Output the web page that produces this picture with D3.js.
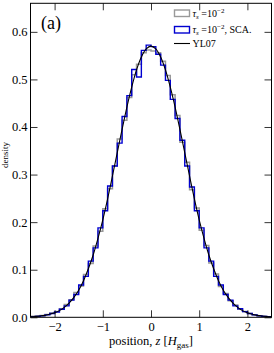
<!DOCTYPE html>
<html>
<head>
<meta charset="utf-8">
<script src="https://cdn.jsdelivr.net/npm/d3@7"></script>
<style>
  body { margin: 0; background: #fff; }
  svg, svg text { font-family: "Liberation Serif", "Times New Roman", Times, serif; }
</style>
</head>
<body>
<div class="graph"></div>
<script>
(function () {
  'use strict';

  // histogram bins: 50 bins of width 0.1 from -2.5 to 2.5
  var binStart = -2.5;
  var binWidth = 0.1;

  // tau_s = 1e-2 (grey)
  var densGrey = [
    0.002, 0.003, 0.004, 0.006, 0.009, 0.012, 0.018, 0.027, 0.037, 0.052,
    0.066, 0.090, 0.113, 0.150, 0.181, 0.228, 0.270, 0.318, 0.375, 0.414,
    0.462, 0.510, 0.532, 0.556, 0.562, 0.560, 0.556, 0.538, 0.508, 0.468,
    0.424, 0.368, 0.326, 0.268, 0.230, 0.183, 0.151, 0.114, 0.091, 0.065,
    0.050, 0.035, 0.026, 0.017, 0.012, 0.008, 0.005, 0.003, 0.002, 0.001
  ];

  // tau_s = 1e-2, SCA (blue)
  var densSCA = [
    0.001, 0.002, 0.003, 0.005, 0.008, 0.011, 0.017, 0.024, 0.036, 0.048,
    0.068, 0.086, 0.118, 0.146, 0.188, 0.224, 0.276, 0.318, 0.366, 0.422,
    0.466, 0.521, 0.505, 0.561, 0.572, 0.569, 0.553, 0.530, 0.498, 0.458,
    0.418, 0.372, 0.318, 0.274, 0.224, 0.188, 0.146, 0.118, 0.086, 0.068,
    0.048, 0.036, 0.024, 0.018, 0.012, 0.008, 0.005, 0.003, 0.002, 0.001
  ];

  // YL07 curve, sampled every 0.1 from -2.5 to 2.5
  var ylZ = d3.range(51).map(function(i) { return -2.5 + i * 0.1; });
  var ylDens = [
    0.0010, 0.0016, 0.0026, 0.0041, 0.0063, 0.0096, 0.014, 0.021, 0.030, 0.042,
    0.057, 0.077, 0.102, 0.131, 0.166, 0.205, 0.249, 0.297, 0.346, 0.395,
    0.442, 0.484, 0.520, 0.547, 0.564, 0.570, 0.564, 0.547, 0.520, 0.484,
    0.442, 0.395, 0.346, 0.297, 0.249, 0.205, 0.166, 0.131, 0.102, 0.077,
    0.057, 0.042, 0.030, 0.021, 0.014, 0.0096, 0.0063, 0.0041, 0.0026, 0.0016,
    0.0010
  ];

  var xTicks = [-2, -1, 0, 1, 2];
  var yTicks = [0, 0.1, 0.2, 0.3, 0.4, 0.5, 0.6];

  var serif = '"Liberation Serif", "Times New Roman", Times, serif';
  var W = 274, H = 353;
  var left = 30.5, right = 271.5, top = 3.3, bottom = 317.3;
  var tickLen = 7;

  var svg = d3.select('.graph').append('svg')
    .attr('width', W).attr('height', H)
    .attr('font-family', serif);

  var x = d3.scaleLinear().domain([-2.5, 2.5]).range([left, right]);
  var y = d3.scaleLinear().domain([0, 0.66]).range([bottom, top]);

  // step outline of a histogram
  function stepPoints(vals) {
    var pts = [[binStart, 0]];
    vals.forEach(function(v, i) {
      var x0 = binStart + i * binWidth;
      pts.push([x0, v]);
      pts.push([x0 + binWidth, v]);
    });
    pts.push([binStart + vals.length * binWidth, 0]);
    return pts;
  }

  var line = d3.line()
    .x(function(d) { return x(d[0]); })
    .y(function(d) { return y(d[1]); });

  svg.append('clipPath').attr('id', 'clip')
    .append('rect').attr('x', left).attr('y', top)
    .attr('width', right - left).attr('height', bottom - top);
  var plot = svg.append('g').attr('clip-path', 'url(#clip)');

  plot.append('path')
    .attr('d', line(stepPoints(densGrey)))
    .style('fill', 'none').style('stroke', '#999999')
    .style('stroke-width', 1.5).style('stroke-linejoin', 'miter');

  plot.append('path')
    .attr('d', line(stepPoints(densSCA)))
    .style('fill', 'none').style('stroke', '#0000d0')
    .style('stroke-width', 1.4).style('stroke-linejoin', 'miter');

  var curve = d3.line()
    .x(function(d, i) { return x(ylZ[i]); })
    .y(function(d) { return y(d); })
    .curve(d3.curveCatmullRom);

  plot.append('path')
    .attr('d', curve(ylDens))
    .style('fill', 'none').style('stroke', '#000')
    .style('stroke-width', 1.1);

  // axes, ticks pointing inward
  var fmtY = d3.format('.1f');
  function styleAxis(g) {
    g.attr('font-family', serif).attr('font-size', 12.5);
    g.select('.domain').remove();
    g.selectAll('line').style('stroke', '#000').style('stroke-width', 0.8);
    g.selectAll('text').style('fill', '#000');
  }

  svg.append('g').attr('transform', 'translate(0,' + bottom + ')')
    .call(d3.axisBottom(x).tickValues(xTicks).tickSizeInner(-tickLen)
      .tickSizeOuter(0).tickPadding(5).tickFormat(d3.format('d')))
    .call(styleAxis);
  svg.append('g').attr('transform', 'translate(0,' + top + ')')
    .call(d3.axisTop(x).tickValues(xTicks).tickSizeInner(-tickLen)
      .tickSizeOuter(0).tickFormat(''))
    .call(styleAxis);
  svg.append('g').attr('transform', 'translate(' + left + ',0)')
    .call(d3.axisLeft(y).tickValues(yTicks).tickSizeInner(-tickLen)
      .tickSizeOuter(0).tickPadding(3).tickFormat(fmtY))
    .call(styleAxis);
  svg.append('g').attr('transform', 'translate(' + right + ',0)')
    .call(d3.axisRight(y).tickValues(yTicks).tickSizeInner(-tickLen)
      .tickSizeOuter(0).tickFormat(''))
    .call(styleAxis);

  svg.append('rect')
    .attr('x', left).attr('y', top)
    .attr('width', right - left).attr('height', bottom - top)
    .style('fill', 'none').style('stroke', '#000').style('stroke-width', 1);

  // panel label
  svg.append('text').attr('x', 41).attr('y', 29)
    .attr('font-size', 18).text('(a)');

  // axis labels
  var xl = svg.append('text')
    .attr('x', (left + right) / 2).attr('y', 345)
    .attr('text-anchor', 'middle').attr('font-size', 12.5);
  xl.append('tspan').text('position, ');
  xl.append('tspan').style('font-style', 'italic').text('z');
  xl.append('tspan').text(' [');
  xl.append('tspan').style('font-style', 'italic').text('H');
  xl.append('tspan').attr('dy', 2.5).attr('font-size', 9).text('gas');
  xl.append('tspan').attr('dy', -2.5).text(']');

  svg.append('text')
    .attr('transform', 'translate(7.5,155) rotate(-90)')
    .attr('text-anchor', 'middle').attr('font-size', 9)
    .text('density');

  // legend
  var legend = svg.append('g').attr('transform', 'translate(174,0)');
  var entries = [
    { type: 'patch', color: '#999999', y: 13.5, sca: false },
    { type: 'patch', color: '#0000d0', y: 30, sca: true },
    { type: 'line', color: '#000', y: 43.5 }
  ];
  entries.forEach(function(e) {
    if (e.type === 'patch') {
      legend.append('rect')
        .attr('x', 0.5).attr('y', e.y - 3.5).attr('width', 15).attr('height', 6.5)
        .style('fill', 'none').style('stroke', e.color).style('stroke-width', 1.4);
      var t = legend.append('text').attr('x', 18.5).attr('y', e.y + 3)
        .attr('font-size', 10);
      t.append('tspan').style('font-style', 'italic').text('\u03c4');
      t.append('tspan').attr('dy', 2).attr('font-size', 7)
        .style('font-style', 'italic').text('s');
      t.append('tspan').attr('dy', -2).text(' =10');
      t.append('tspan').attr('dy', -4).attr('font-size', 7).text('\u22122');
      if (e.sca) {
        t.append('tspan').attr('dy', 4).text(', SCA.');
      }
    } else {
      legend.append('line')
        .attr('x1', 0).attr('x2', 16).attr('y1', e.y).attr('y2', e.y)
        .style('stroke', e.color).style('stroke-width', 1.1);
      legend.append('text').attr('x', 18.5).attr('y', e.y + 3.5)
        .attr('font-size', 10).text('YL07');
    }
  });
})();
</script>
</body>
</html>
